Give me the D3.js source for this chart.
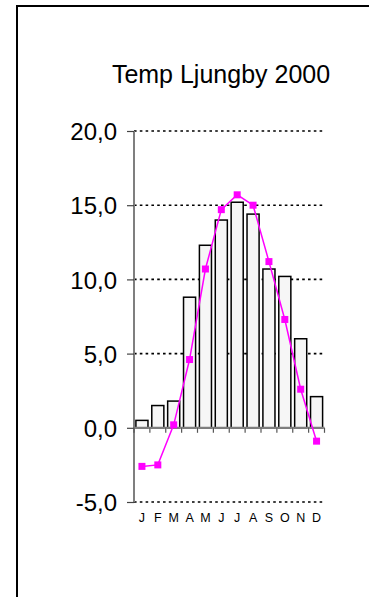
<!DOCTYPE html>
<html>
<head>
<meta charset="utf-8">
<script src="https://cdn.jsdelivr.net/npm/d3@7"></script>
<style>
  html, body { margin: 0; padding: 0; background: #fff; }
  svg { display: block; }
  text { font-family: "Liberation Sans", Arial, sans-serif; fill: #000; }
</style>
</head>
<body>
<svg id="chart" width="369" height="597"></svg>
<script>
// Monthly mean temperature, Ljungby 2000 (bars) vs. normal (line)
const months = ["J", "F", "M", "A", "M", "J", "J", "A", "S", "O", "N", "D"];
const temp2000 = [0.5, 1.5, 1.8, 8.8, 12.3, 14.0, 15.2, 14.4, 10.7, 10.2, 6.0, 2.1];
const normal = [-2.6, -2.5, 0.2, 4.6, 10.7, 14.7, 15.7, 15.0, 11.2, 7.3, 2.6, -0.9];
const yTicks = [-5, 0, 5, 10, 15, 20];
const title = "Temp Ljungby 2000";

const svg = d3.select("#chart");

// outer frame
svg.append("rect")
  .attr("x", 17).attr("y", 6)
  .attr("width", 420).attr("height", 700)
  .attr("fill", "none").attr("stroke", "#000").attr("stroke-width", 2);

const plotLeft = 134, plotRight = 324.5, plotTop = 131, plotBottom = 502;

const x = d3.scaleBand()
  .domain(d3.range(months.length))
  .range([plotLeft, plotRight])
  .paddingInner(0.24)
  .paddingOuter(0.12);

const xEdges = d3.scaleLinear().domain([0, months.length]).range([plotLeft, plotRight]);

const y = d3.scaleLinear().domain([-5, 20]).range([plotBottom, plotTop]);

// decimal comma, plain hyphen for negatives
const fmt = v => v.toFixed(1).replace(".", ",");

// dotted gridlines
svg.append("g")
  .selectAll("line")
  .data(yTicks.filter(v => v !== 0))
  .join("line")
  .attr("x1", plotLeft).attr("x2", 323)
  .attr("y1", d => y(d)).attr("y2", d => y(d))
  .attr("stroke", "#000")
  .attr("stroke-width", 1.6)
  .attr("stroke-dasharray", "2.6,3.2");

// bars
svg.append("g")
  .selectAll("rect")
  .data(temp2000)
  .join("rect")
  .attr("x", (d, i) => x(i))
  .attr("width", x.bandwidth())
  .attr("y", d => y(Math.max(0, d)))
  .attr("height", d => Math.abs(y(d) - y(0)))
  .attr("fill", "#f6f6f6")
  .attr("stroke", "#000")
  .attr("stroke-width", 1.5);

// y axis
const yAxis = d3.axisLeft(y).tickValues(yTicks).tickSize(7).tickFormat(fmt).tickPadding(10);
const gy = svg.append("g").attr("transform", `translate(${plotLeft},0)`).call(yAxis);
gy.select(".domain").attr("stroke", "#7f7f7f").attr("stroke-width", 2).attr("d", `M0,${plotTop}V${plotBottom}`);
gy.selectAll(".tick line").attr("stroke", "#444").attr("stroke-width", 1.2);
gy.selectAll(".tick text")
  .attr("font-size", 24)
  .attr("font-family", "'Liberation Sans', Arial, sans-serif")
  .attr("fill", "#000")
  .attr("dy", "0.36em");

// x axis along zero
const gx = svg.append("g").attr("transform", `translate(0,${y(0)})`);
gx.append("line")
  .attr("x1", plotLeft).attr("x2", plotRight)
  .attr("stroke", "#7f7f7f").attr("stroke-width", 2);
gx.selectAll("line.tick")
  .data(d3.range(months.length + 1))
  .join("line")
  .attr("class", "tick")
  .attr("x1", d => xEdges(d)).attr("x2", d => xEdges(d))
  .attr("y1", 0).attr("y2", 5)
  .attr("stroke", "#555").attr("stroke-width", 1.2);

// month labels below plot
svg.append("g")
  .selectAll("text")
  .data(months)
  .join("text")
  .attr("x", (d, i) => x(i) + x.bandwidth() / 2)
  .attr("y", 522)
  .attr("text-anchor", "middle")
  .attr("font-size", 12.5)
  .text(d => d);

// normal line with square markers
const line = d3.line()
  .x((d, i) => x(i) + x.bandwidth() / 2)
  .y(d => y(d));

svg.append("path")
  .datum(normal)
  .attr("d", line)
  .attr("fill", "none")
  .attr("stroke", "#ff00ff")
  .attr("stroke-width", 1.5);

const m = 7;
svg.append("g")
  .selectAll("rect")
  .data(normal)
  .join("rect")
  .attr("x", (d, i) => x(i) + x.bandwidth() / 2 - m / 2)
  .attr("y", d => y(d) - m / 2)
  .attr("width", m).attr("height", m)
  .attr("fill", "#ff00ff");

// title
svg.append("text")
  .attr("x", 221)
  .attr("y", 83)
  .attr("text-anchor", "middle")
  .attr("font-size", 25)
  .text(title);
</script>
</body>
</html>
